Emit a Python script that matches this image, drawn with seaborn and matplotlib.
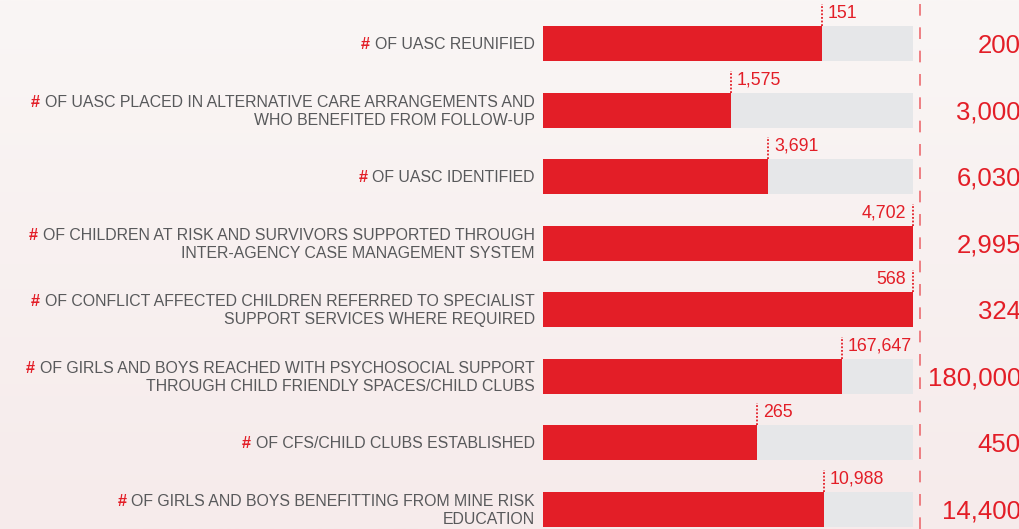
import numpy as np
import pandas as pd
import matplotlib
matplotlib.use("Agg")
import matplotlib.pyplot as plt
import seaborn as sns
from matplotlib.colors import LinearSegmentedColormap

labels = [
    ["OF UASC REUNIFIED"],
    ["OF UASC PLACED IN ALTERNATIVE CARE ARRANGEMENTS AND", "WHO BENEFITED FROM FOLLOW-UP"],
    ["OF UASC IDENTIFIED"],
    ["OF CHILDREN AT RISK AND SURVIVORS SUPPORTED THROUGH", "INTER-AGENCY CASE MANAGEMENT SYSTEM"],
    ["OF CONFLICT AFFECTED CHILDREN REFERRED TO SPECIALIST", "SUPPORT SERVICES WHERE REQUIRED"],
    ["OF GIRLS AND BOYS REACHED WITH PSYCHOSOCIAL SUPPORT", "THROUGH CHILD FRIENDLY SPACES/CHILD CLUBS"],
    ["OF CFS/CHILD CLUBS ESTABLISHED"],
    ["OF GIRLS AND BOYS BENEFITTING FROM MINE RISK", "EDUCATION"],
]
achieved = [151, 1575, 3691, 4702, 568, 167647, 265, 10988]
targets = [200, 3000, 6030, 2995, 324, 180000, 450, 14400]
# progress shown by the red bars (share of target)
progress = [0.754, 0.508, 0.608, 1.0, 1.0, 0.808, 0.578, 0.759]

RED = "#e31e27"
GREY_BAR = "#e6e7e9"
TXT = "#58595b"
DASH = "#ec6b70"

W, H = 1020, 529
fig = plt.figure(figsize=(W / 100, H / 100), dpi=100)

# background gradient
bg = fig.add_axes([0, 0, 1, 1], zorder=0)
grad = np.linspace(0, 1, 256)[:, None]
cmap = LinearSegmentedColormap.from_list("bg", ["#faf6f5", "#f6ebeb"])
bg.imshow(grad, aspect="auto", cmap=cmap, extent=[0, 1, 0, 1], origin="upper")
bg.axis("off")

ax = fig.add_axes([0, 0, 1, 1], zorder=1)
ax.patch.set_alpha(0)

x0, bw = 543.0, 370.0          # pixel start and width of full bar
y0, step = 44.0, 66.45          # pixel center of first bar and spacing

n = len(achieved)
ids = [str(i) for i in range(n)]
df = pd.DataFrame({
    "id": ids,
    "full": [1.0] * n,
    "frac": progress,
})
bh = 35 / step
sns.barplot(data=df, x="full", y="id", orient="h", color=GREY_BAR, width=bh,
            saturation=1, ax=ax, order=ids)
sns.barplot(data=df, x="frac", y="id", orient="h", color=RED, width=bh,
            saturation=1, ax=ax, order=ids)

ax.set_xlim(-x0 / bw, (W - x0) / bw)
ax.set_ylim((H - y0) / step, -y0 / step)
ax.axis("off")

px = 1.0 / bw    # one pixel in x data units
py = 1.0 / step  # one pixel in y data units

# dashed separator
ax.axvline((920 - x0) / bw, color=DASH, lw=1.2, ls=(0, (7, 7)), zorder=3)

font = "Liberation Sans"
fig.canvas.draw()
renderer = fig.canvas.get_renderer()

for i in range(n):
    f = df["frac"][i]
    top = i - bh / 2
    # dotted marker
    ax.plot([f, f], [top, top - 22 * py], color=RED, lw=1.3,
            ls=(0, (1, 1)), zorder=4)
    lab = f"{achieved[i]:,}"
    if f >= 0.97:
        ax.text(f - 7 * px, top - 13 * py, lab, ha="right", va="center",
                color=RED, fontsize=12.8, family=font, zorder=5)
    else:
        ax.text(f + 6 * px, top - 13 * py, lab, ha="left", va="center",
                color=RED, fontsize=12.8, family=font, zorder=5)
    # target value
    ax.text((1021 - x0) / bw, i + 2 * py, f"{targets[i]:,}", ha="right",
            va="center", color=RED, fontsize=18.5, family=font, zorder=5)
    # category label
    lines = labels[i]
    lx = (535 - x0) / bw
    if len(lines) == 1:
        ys = [i + 1 * py]
    else:
        ys = [i - 8 * py, i + 10 * py]
    first = None
    for j, (ln, yy) in enumerate(zip(lines, ys)):
        t = ax.text(lx, yy, ln, ha="right", va="center", color=TXT,
                    fontsize=11.4, family=font, zorder=5)
        if j == 0:
            first = t
    ext = first.get_window_extent(renderer=renderer)
    hx = (ext.x0 - 5 - x0) / bw
    ax.text(hx, ys[0], "#", ha="right", va="center", color=RED,
            fontsize=11.8, family=font, fontweight="bold", zorder=5)

fig.savefig("out.png", dpi=100)
